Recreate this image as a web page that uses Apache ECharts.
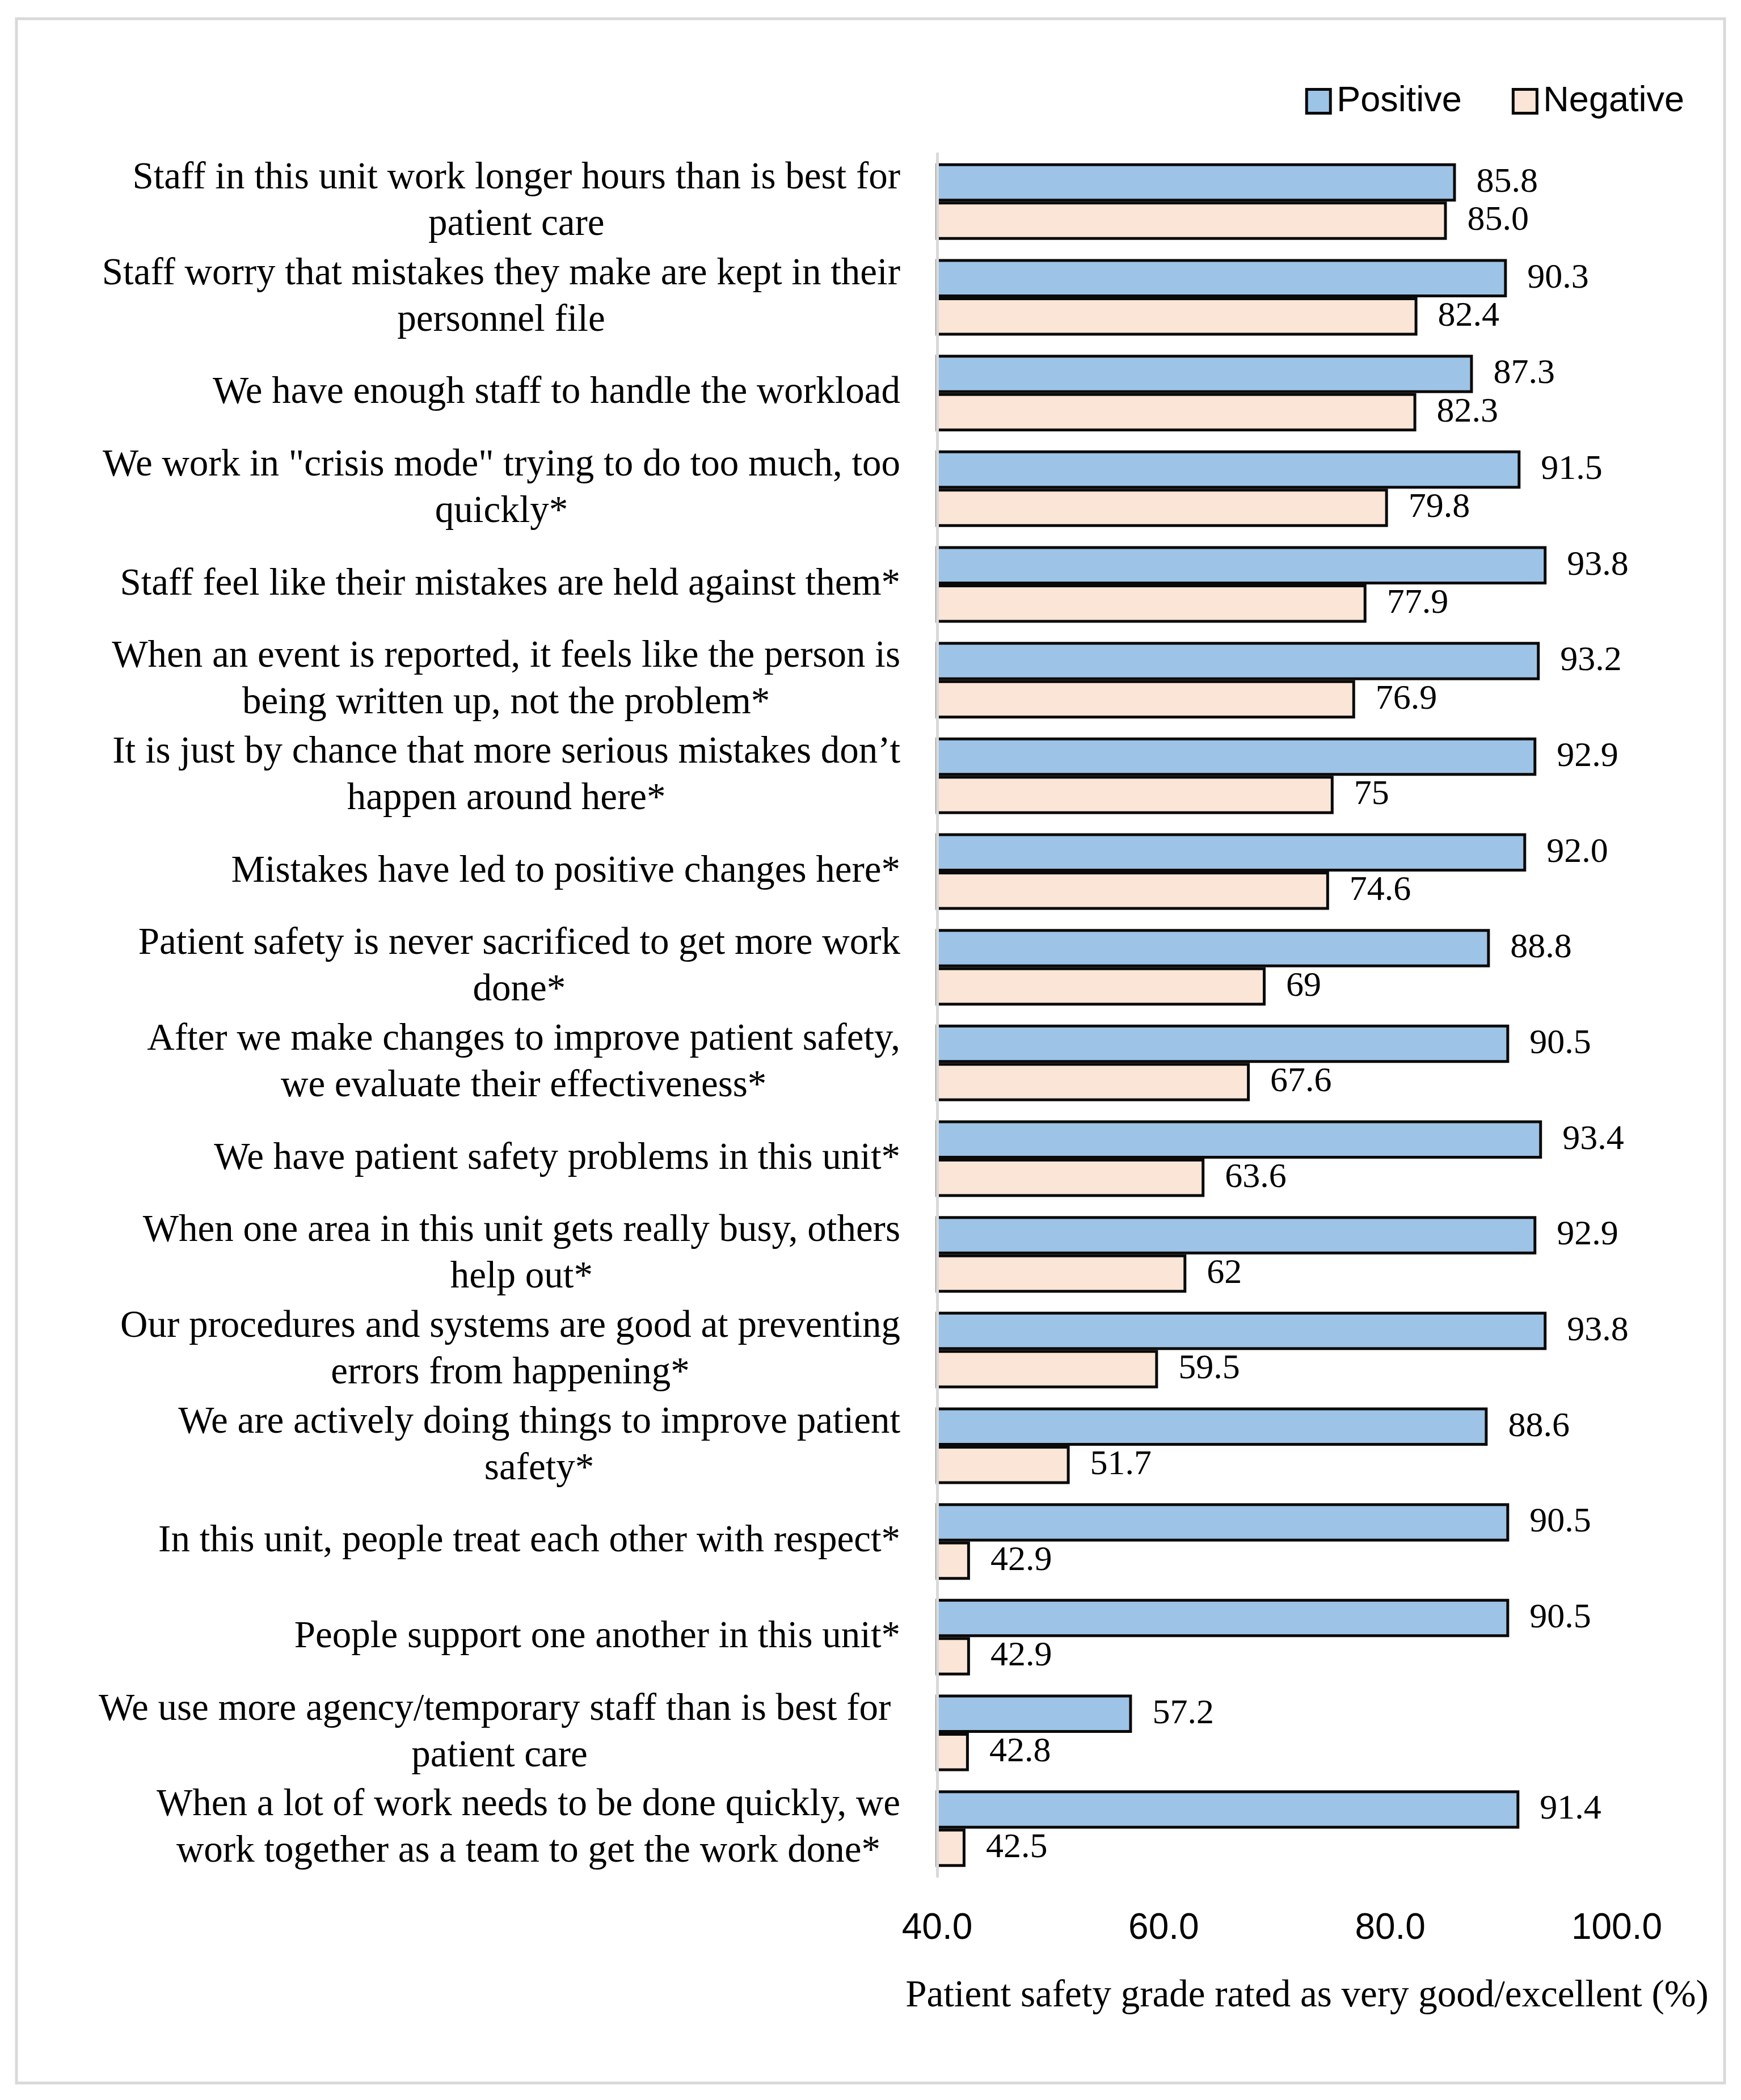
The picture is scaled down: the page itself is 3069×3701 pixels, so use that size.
<!DOCTYPE html>
<html>
<head>
<meta charset="utf-8">
<script src="https://cdn.jsdelivr.net/npm/echarts@6/dist/echarts.min.js"></script>
<style>
html,body{margin:0;padding:0;background:#fff;}
#chart{width:3069px;height:3701px;}
</style>
</head>
<body>
<div id="chart"></div>
<script>
var categories = [
  "Staff in this unit work longer hours than is best for\npatient care",
  "Staff worry that mistakes they make are kept in their\npersonnel file",
  "We have enough staff to handle the workload",
  "We work in \"crisis mode\" trying to do too much, too\nquickly*",
  "Staff feel like their mistakes are held against them*",
  "When an event is reported, it feels like the person is\nbeing written up, not the problem*",
  "It is just by chance that more serious mistakes don\u2019t\nhappen around here*",
  "Mistakes have led to positive changes here*",
  "Patient safety is never sacrificed to get more work\ndone*",
  "After we make changes to improve patient safety,\nwe evaluate their effectiveness*",
  "We have patient safety problems in this unit*",
  "When one area in this unit gets really busy, others\nhelp out*",
  "Our procedures and systems are good at preventing\nerrors from happening*",
  "We are actively doing things to improve patient\nsafety*",
  "In this unit, people treat each other with respect*",
  "People support one another in this unit*",
  "We use more agency/temporary staff than is best for \npatient care",
  "When a lot of work needs to be done quickly, we\nwork together as a team to get the work done*"
];
var positiveValues = [85.8, 90.3, 87.3, 91.5, 93.8, 93.2, 92.9, 92.0, 88.8, 90.5, 93.4, 92.9, 93.8, 88.6, 90.5, 90.5, 57.2, 91.4];
var negativeValues = [85.0, 82.4, 82.3, 79.8, 77.9, 76.9, 75, 74.6, 69, 67.6, 63.6, 62, 59.5, 51.7, 42.9, 42.9, 42.8, 42.5];
var positiveLabels = ["85.8","90.3","87.3","91.5","93.8","93.2","92.9","92.0","88.8","90.5","93.4","92.9","93.8","88.6","90.5","90.5","57.2","91.4"];
var negativeLabels = ["85.0","82.4","82.3","79.8","77.9","76.9","75","74.6","69","67.6","63.6","62","59.5","51.7","42.9","42.9","42.8","42.5"];
var seriesNames = ["Positive", "Negative"];
var xTicks = [40, 60, 80, 100];

var SERIF = "'Liberation Serif', 'Times New Roman', serif";
var SANS = "'Liberation Sans', Arial, sans-serif";

var chart = echarts.init(document.getElementById('chart'), null, {renderer: 'canvas'});

function labelFmt(arr) {
  return function (p) { return arr[p.dataIndex]; };
}

var option = {
  backgroundColor: '#ffffff',
  animation: false,
  graphic: [{
    type: 'rect',
    shape: {x: 29, y: 33, width: 3011, height: 3638},
    style: {fill: 'none', stroke: '#d9d9d9', lineWidth: 5},
    silent: true,
    z: -1
  }],
  legend: {
    data: seriesNames,
    right: 95,
    top: 142,
    itemWidth: 42,
    itemHeight: 42,
    itemGap: 88,
    icon: 'rect',
    itemStyle: {borderColor: '#0a0a0a', borderWidth: 5},
    textStyle: {fontFamily: SANS, fontSize: 63, color: '#000', padding: [0, 0, 0, 6]}
  },
  grid: {left: 1652, right: 219, top: 271, bottom: 394, containLabel: false},
  xAxis: {
    type: 'value',
    min: 40,
    max: 100,
    interval: 20,
    axisLine: {show: false},
    axisTick: {show: false},
    splitLine: {show: false},
    axisLabel: {
      fontFamily: SANS,
      fontSize: 64,
      color: '#000',
      margin: 60,
      formatter: function (v) { return xTicks.indexOf(v) >= 0 ? v.toFixed(1) : ''; }
    },
    name: 'Patient safety grade rated as very good/excellent (%)',
    nameLocation: 'middle',
    nameGap: 178,
    nameTextStyle: {fontFamily: SERIF, fontSize: 67, color: '#000', padding: [0, 0, 0, 106]}
  },
  yAxis: {
    type: 'category',
    data: categories,
    inverse: true,
    z: 5,
    axisLine: {show: true, lineStyle: {color: '#d9d9d9', width: 5}},
    axisTick: {show: false},
    splitLine: {show: false},
    axisLabel: {
      margin: 65,
      fontFamily: SERIF,
      fontSize: 67,
      color: '#000',
      lineHeight: 82,
      formatter: function (v) {
        return v.split('\n').map(function (s) { return '{c|' + s + '}'; }).join('\n');
      },
      rich: {
        c: {align: 'center', fontFamily: SERIF, fontSize: 67, color: '#000', lineHeight: 82}
      }
    }
  },
  series: [
    {
      name: seriesNames[0],
      type: 'bar',
      data: positiveValues,
      barGap: '0%',
      barCategoryGap: '20%',
      itemStyle: {color: '#9DC3E6', borderColor: '#0a0a0a', borderWidth: 5},
      label: {
        show: true, position: 'right', distance: 36,
        fontFamily: SERIF, fontSize: 62, color: '#000',
        formatter: labelFmt(positiveLabels)
      }
    },
    {
      name: seriesNames[1],
      type: 'bar',
      data: negativeValues,
      barGap: '0%',
      barCategoryGap: '20%',
      itemStyle: {color: '#FBE5D6', borderColor: '#0a0a0a', borderWidth: 5},
      label: {
        show: true, position: 'right', distance: 36,
        fontFamily: SERIF, fontSize: 62, color: '#000',
        formatter: labelFmt(negativeLabels)
      }
    }
  ]
};
chart.setOption(option);
</script>
</body>
</html>
